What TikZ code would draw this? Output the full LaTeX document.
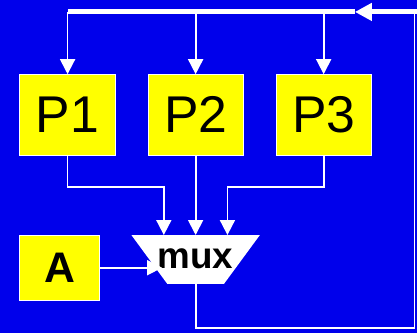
\documentclass[tikz,border=0pt]{standalone}
\usepackage{fontspec}
\setmainfont{Liberation Sans}
\usetikzlibrary{arrows.meta,positioning,calc}
\definecolor{bgblue}{RGB}{0,0,235}
\definecolor{boxyellow}{RGB}{255,255,0}

\begin{document}
\begin{tikzpicture}[x=1pt,y=-1pt,>={Triangle[width=15pt,length=15pt]},node distance=32pt]
	\tikzstyle{proc}=[rectangle,draw=white,line width=0.8pt,fill=boxyellow,inner sep=0pt,minimum width=96pt,minimum height=81pt,font=\fontsize{52}{60}\selectfont]
	\tikzstyle{small_box}=[rectangle,draw=white,line width=0.8pt,fill=boxyellow,inner sep=0pt,minimum width=80pt,minimum height=65pt,font=\fontsize{43}{50}\selectfont\bfseries]
	\tikzstyle{mux_shape}=[rectangle,inner sep=0pt,minimum width=129pt,minimum height=49pt,font=\fontsize{37}{42}\selectfont\bfseries,
		path picture={\fill[white] (path picture bounding box.north west) -- (path picture bounding box.north east)
			-- ($(path picture bounding box.south east)+(-36,0)$) -- ($(path picture bounding box.south west)+(36,0)$) -- cycle;}]
	\tikzstyle{wire}=[white,line width=1.8pt]
	\tikzstyle{bus}=[white,line width=5pt]
	
	\fill[bgblue] (0,0) rectangle (419,335);
	
	\node[proc] (p1) at (68,115.5) {P1};
	\node[proc] (p2) [right=of p1] {P2};
	\node[proc] (p3) [right=of p2] {P3};
	\node[small_box] (a) [below right=80pt and 0pt of p1.south west] {A};
	\node[mux_shape] (mux) [below=80pt of p2] {\raisebox{2pt}{mux}};
	
	\coordinate (bus_tip) at (357,12);
	\coordinate (loop_top) at (417,12);
	\coordinate (loop_bottom) at (417,330);
	
	% feedback loop back to the bus
	\draw[wire] (mux.south) |- (loop_bottom) -- (loop_top);
	\draw[bus,->,>={Triangle[width=17pt,length=17pt]}] ($(loop_top)+(2,0)$) -- (bus_tip);
	\draw[bus] (bus_tip) -- (bus_tip -| p1.north);
	\foreach \p in {p1,p2,p3}
		\draw[wire,->] (bus_tip -| \p.north) -- (\p.north);
	
	% processors into the mux
	\draw[wire,->] (p1.south) -- ++(0,32) -| ($(mux.north)+(-32,0)$);
	\draw[wire,->] (p2.south) -- (mux.north);
	\draw[wire,->] (p3.south) -- ++(0,32) -| ($(mux.north)+(32,0)$);
	\draw[wire,->] (a.east) -- ($(a.east -| mux.west)+(31,0)$);
\end{tikzpicture}
\end{document}
